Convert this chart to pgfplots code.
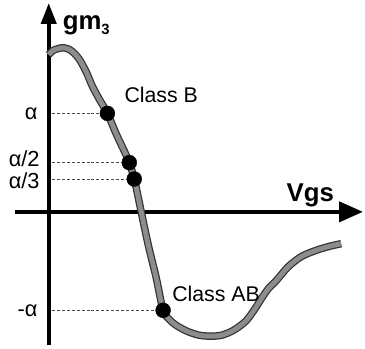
\documentclass[border=0pt]{standalone}
\usepackage{fontspec}
\setmainfont{Liberation Sans}
\usepackage{pgfplots}
\pgfplotsset{compat=1.18}
\usetikzlibrary{arrows.meta}

% transconductance curve gm3 versus Vgs
\pgfplotstableread{
x    y
0    158
4    162
9    164
14   165
19   164
24   161
31   153
38   140
44   126
51   113
59   99
68   78
76   61
81   49.5
86   33
93   0
100  -33
108  -66
115  -99
121  -108
128  -114
139  -120
151  -124
163  -125
174  -124
186  -119
198  -110
207  -98
214  -87
221  -77
228  -70
241  -55
254  -45
268  -39
281  -35
294  -32
}\gmcurve

% bias points: alpha, alpha/2, alpha/3, -alpha
\pgfplotstableread{
x    y
59   99
81   49.5
86   33
115  -99
}\biaspts

\begin{document}
\begin{tikzpicture}
\begin{axis}[
  scale only axis, width=365bp, height=350bp,
  xmin=-49, xmax=316, ymin=-137, ymax=213,
  hide axis, clip=false,
]
\path (axis cs:-49,-137) rectangle (axis cs:316,213);

% guide lines from the vertical axis to the bias points
\addplot[black!70, line width=0.9bp, dash pattern=on 3bp off 2bp] coordinates {(3,99) (59,99)};
\addplot[black!70, line width=0.9bp, dash pattern=on 3bp off 2bp] coordinates {(3,49.5) (81,49.5)};
\addplot[black!70, line width=0.9bp, dash pattern=on 3bp off 2bp] coordinates {(3,33) (86,33)};
\addplot[black!70, line width=0.9bp, dash pattern=on 3bp off 2bp] coordinates {(3,-99) (115,-99)};

% axes
\draw[line width=4bp, -{Triangle[length=21bp,width=15bp]}] (axis cs:0,-134) -- (axis cs:0,210);
\draw[line width=4bp, -{Triangle[length=24bp,width=20bp]}] (axis cs:-34,0) -- (axis cs:316,0);

% curve: dark rim with grey core
\addplot[smooth, tension=0.5, line width=7.5bp, black!80] table {\gmcurve};
\addplot[smooth, tension=0.5, line width=5bp, black!45] table {\gmcurve};

% bias points
\addplot[only marks, mark=*, mark size=7.5bp, black] table {\biaspts};

% labels
\node[anchor=base west, inner sep=0, font=\fontsize{26}{30}\selectfont\bfseries] at (axis cs:14,183)
  {gm\raisebox{-5bp}{\fontsize{15}{18}\selectfont 3}};
\node[anchor=base west, inner sep=0, font=\fontsize{26}{30}\selectfont\bfseries] at (axis cs:239,10) {Vgs};
\node[anchor=base west, inner sep=0, font=\fontsize{21.5}{25}\selectfont] at (axis cs:76,110) {Class B};
\node[anchor=base west, inner sep=0, font=\fontsize{21.5}{25}\selectfont] at (axis cs:124,-90) {Class AB};
\node[anchor=base east, inner sep=0, font=\fontsize{22}{26}\selectfont] at (axis cs:-11,93) {α};
\node[anchor=base east, inner sep=0, font=\fontsize{22}{26}\selectfont] at (axis cs:-9,46) {α/2};
\node[anchor=base east, inner sep=0, font=\fontsize{22}{26}\selectfont] at (axis cs:-9,23) {α/3};
\node[anchor=base east, inner sep=0, font=\fontsize{22}{26}\selectfont] at (axis cs:-11,-105) {-α};
\end{axis}
\end{tikzpicture}
\end{document}
